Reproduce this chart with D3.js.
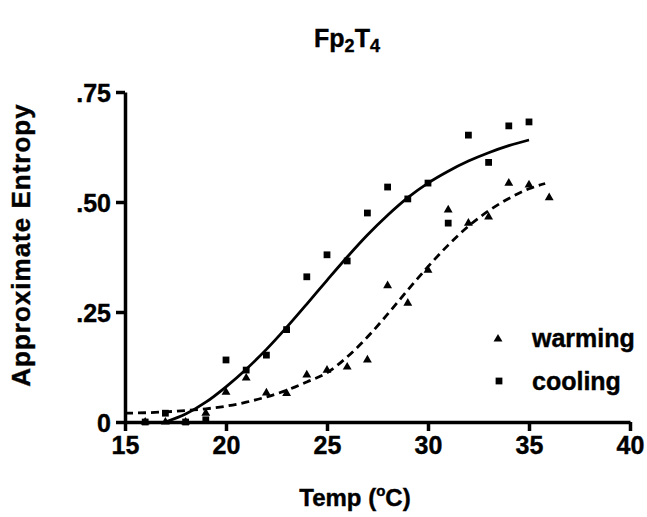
<!DOCTYPE html>
<html>
<head>
<meta charset="utf-8">
<script src="https://cdn.jsdelivr.net/npm/d3@7"></script>
<style>
  html, body { margin: 0; padding: 0; background: #fff; }
  svg { display: block; }
  text { font-family: "Liberation Sans", Arial, Helvetica, sans-serif; font-weight: bold; fill: #000; stroke: #000; stroke-width: 0.4px; }
</style>
</head>
<body>
<svg id="chart" width="647" height="517"></svg>
<script>
// ---- data ----
const warmingTemps  = [16, 17, 18, 19, 20, 21, 22, 23, 24, 25, 26, 27, 28, 29, 30, 31, 32, 33, 34, 35, 36];
const warmingValues = [0.0, 0.0, 0.0, 0.02, 0.068, 0.10, 0.066, 0.065, 0.107, 0.118, 0.125, 0.141, 0.31, 0.27, 0.345, 0.482, 0.452, 0.466, 0.543, 0.539, 0.51];

const coolingTemps  = [16, 17, 18, 19, 20, 21, 22, 23, 24, 25, 26, 27, 28, 29, 30, 31, 32, 33, 34, 35];
const coolingValues = [0.0, 0.02, 0.0, 0.005, 0.141, 0.118, 0.152, 0.21, 0.33, 0.38, 0.366, 0.475, 0.534, 0.507, 0.543, 0.452, 0.652, 0.59, 0.673, 0.682];

// fitted curves
const coolingFitTemps  = [17, 18, 19, 20, 21, 22, 23, 24, 25, 26, 27, 28, 29, 30, 31, 32, 33, 34, 35];
const coolingFitValues = [0.0, 0.018, 0.045, 0.08, 0.12, 0.165, 0.215, 0.268, 0.322, 0.375, 0.425, 0.47, 0.51, 0.543, 0.57, 0.593, 0.612, 0.628, 0.641];

const warmingFitTemps  = [15, 16, 17, 18, 19, 20, 21, 22, 23, 24, 25, 26, 27, 28, 29, 30, 31, 32, 33, 34, 35, 35.8];
const warmingFitValues = [0.02, 0.021, 0.023, 0.026, 0.03, 0.036, 0.045, 0.057, 0.072, 0.091, 0.112, 0.148, 0.193, 0.245, 0.3, 0.353, 0.402, 0.445, 0.48, 0.508, 0.53, 0.542];

const xTicks = [15, 20, 25, 30, 35, 40];
const yTicks = [0, 0.25, 0.5, 0.75];
const yTickLabels = ["0", ".25", ".50", ".75"];

const legendLabels = ["warming", "cooling"];

// ---- drawing ----
const svg = d3.select("#chart");
const x = d3.scaleLinear().domain([15, 40]).range([125, 630]);
const y = d3.scaleLinear().domain([0, 0.75]).range([422, 92]);

const FS = 25;
const FONT = '"Liberation Sans", Arial, sans-serif';

// axes
const xAxis = svg.append("g").attr("transform", `translate(0,${y(0)})`)
  .call(d3.axisBottom(x).tickValues(xTicks).tickSize(9).tickSizeOuter(0).tickPadding(5).tickFormat(d3.format("d")));
const yAxis = svg.append("g").attr("transform", `translate(${x(15)},0)`)
  .call(d3.axisLeft(y).tickValues(yTicks).tickSize(9).tickSizeOuter(0).tickPadding(5)
        .tickFormat(d => yTickLabels[yTicks.indexOf(d)]));

[xAxis, yAxis].forEach(g => {
  g.select(".domain").attr("stroke", "#000").attr("stroke-width", 3.5);
  g.selectAll(".tick line").attr("stroke", "#000").attr("stroke-width", 3.5);
  g.selectAll(".tick text").style("font-size", FS + "px").style("font-weight", "bold")
    .style("font-family", FONT).attr("fill", "#000");
});
yAxis.selectAll(".tick text").attr("dy", "0.36em");

// fit curves
const line = d3.line().x(d => x(d[0])).y(d => y(d[1])).curve(d3.curveMonotoneX);
svg.append("path")
  .datum(coolingFitTemps.map((t, i) => [t, coolingFitValues[i]]))
  .attr("d", line).attr("fill", "none").attr("stroke", "#000").attr("stroke-width", 2.8);
svg.append("path")
  .datum(warmingFitTemps.map((t, i) => [t, warmingFitValues[i]]))
  .attr("d", line).attr("fill", "none").attr("stroke", "#000").attr("stroke-width", 2.8)
  .attr("stroke-dasharray", "8,5");

// markers
const tri = d3.symbol().type(d3.symbolTriangle).size(34);
const sq = d3.symbol().type(d3.symbolSquare).size(46);

svg.append("g").selectAll("path")
  .data(coolingTemps.map((t, i) => [t, coolingValues[i]]))
  .join("path")
  .attr("d", sq)
  .attr("transform", d => `translate(${x(d[0])},${y(d[1])})`)
  .attr("fill", "#000");

svg.append("g").selectAll("path")
  .data(warmingTemps.map((t, i) => [t, warmingValues[i]]))
  .join("path")
  .attr("d", tri)
  .attr("transform", d => `translate(${x(d[0])},${y(d[1])})`)
  .attr("fill", "#000");

// legend
const lg = svg.append("g");
lg.append("path").attr("d", tri).attr("transform", "translate(498,339)").attr("fill", "#000");
lg.append("path").attr("d", sq).attr("transform", "translate(499,381)").attr("fill", "#000");
lg.append("text").attr("x", 532).attr("y", 347).style("font-size", FS + "px").text(legendLabels[0]);
lg.append("text").attr("x", 532).attr("y", 390).style("font-size", FS + "px").text(legendLabels[1]);

// title
const title = svg.append("text").attr("x", 347).attr("y", 47).attr("text-anchor", "middle").style("font-size", "25px");
title.append("tspan").text("Fp");
title.append("tspan").attr("dy", 5).style("font-size", "18px").text("2");
title.append("tspan").attr("dy", -5).text("T");
title.append("tspan").attr("dy", 5).style("font-size", "18px").text("4");

// axis titles
const xt = svg.append("text").attr("x", 355).attr("y", 506).attr("text-anchor", "middle").style("font-size", "24px");
xt.append("tspan").text("Temp (");
xt.append("tspan").attr("dy", -10).style("font-size", "15px").text("o");
xt.append("tspan").attr("dy", 10).text("C)");

svg.append("text")
  .attr("transform", `translate(30,245) rotate(-90)`)
  .attr("text-anchor", "middle")
  .style("font-size", "26px")
  .style("letter-spacing", "1px")
  .text("Approximate Entropy");
</script>
</body>
</html>
